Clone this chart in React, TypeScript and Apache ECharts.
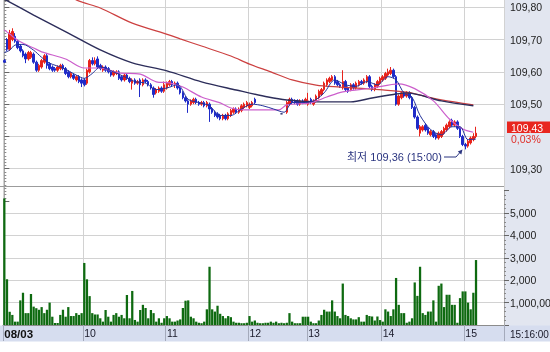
import React, { useEffect, useRef } from 'react';
import * as echarts from 'echarts';

// x-axis: hour sections (08/03 = 09:00 session start), candles per hour slot
const hourLabels = ['08/03', '10', '11', '12', '13', '14', '15'];
const hourCounts = [30, 31, 31, 22, 28, 31, 15];

const opens: (number | null)[] = [
  109.635, 109.70, 109.67, 109.70, 109.71, 109.695, 109.68, 109.665, 109.655, 109.64,
  109.645, 109.655, 109.63, 109.605, 109.615, 109.63, 109.65, 109.625, 109.615, 109.61,
  109.605, 109.61, 109.62, 109.61, 109.60, 109.585, 109.59, 109.575, 109.585, 109.575,
  109.575, 109.565, 109.60, 109.635, 109.625, 109.64, 109.62, 109.605, 109.615, 109.61,
  109.60, 109.59, 109.595, 109.60, 109.585, 109.575, 109.59, 109.58, 109.565, 109.575,
  109.565, 109.575, 109.56, 109.575, 109.57, 109.56, 109.55, 109.535, 109.54, 109.55,
  109.54, 109.55, 109.56, 109.57, 109.56, 109.565, 109.55, 109.535, 109.52, 109.51,
  109.50, 109.505, 109.515, 109.505, 109.50, 109.505, 109.495, 109.50, 109.485, 109.475,
  109.47, 109.465, 109.455, 109.465, 109.455, 109.465, 109.475, 109.485, 109.475, 109.48,
  109.49, 109.495, 109.49, 109.495, 109.515, null, null, null, null, null,
  null, null, null, null, 109.47, null, 109.475, 109.50, 109.515, 109.51,
  109.51, 109.50, 109.51, 109.505, 109.50, 109.515, 109.50, 109.51, 109.52, 109.53,
  109.545, 109.56, 109.57, 109.575, 109.585, 109.57, 109.56, 109.55, 109.57, 109.55,
  109.545, 109.56, 109.55, 109.56, 109.57, 109.565, 109.57, 109.585, 109.555, 109.545,
  109.555, 109.565, 109.575, 109.58, 109.59, 109.595, 109.605, 109.585, 109.50, 109.52,
  109.535, 109.525, 109.535, 109.52, 109.49, 109.46, 109.41, 109.42, 109.435, 109.425,
  109.405, 109.415, 109.405, 109.395, 109.40, 109.41, 109.42, 109.43, 109.45, 109.435,
  109.445, 109.425, 109.40, 109.375, 109.37, 109.38, 109.39, 109.40,
];
const closes: (number | null)[] = [
  109.63, 109.67, 109.72, 109.725, 109.695, 109.675, 109.665, 109.65, 109.64, 109.66,
  109.66, 109.63, 109.605, 109.62, 109.635, 109.65, 109.62, 109.61, 109.605, 109.605,
  109.615, 109.62, 109.61, 109.595, 109.585, 109.595, 109.58, 109.585, 109.57, 109.565,
  109.56, 109.605, 109.635, 109.625, 109.635, 109.615, 109.61, 109.615, 109.605, 109.60,
  109.59, 109.60, 109.60, 109.58, 109.575, 109.59, 109.58, 109.57, 109.575, 109.565,
  109.57, 109.56, 109.575, 109.57, 109.56, 109.55, 109.53, 109.545, 109.55, 109.54,
  109.56, 109.565, 109.57, 109.56, 109.565, 109.55, 109.535, 109.52, 109.51, 109.50,
  109.51, 109.515, 109.505, 109.50, 109.505, 109.495, 109.505, 109.485, 109.475, 109.465,
  109.46, 109.455, 109.465, 109.455, 109.47, 109.48, 109.485, 109.475, 109.485, 109.495,
  109.50, 109.505, 109.50, 109.505, 109.505, null, null, null, null, null,
  null, null, null, null, 109.47, null, 109.505, 109.515, 109.505, 109.505,
  109.50, 109.51, 109.505, 109.515, 109.51, 109.505, 109.51, 109.525, 109.54, 109.545,
  109.565, 109.575, 109.58, 109.585, 109.565, 109.56, 109.555, 109.57, 109.545, 109.54,
  109.56, 109.55, 109.565, 109.57, 109.565, 109.575, 109.585, 109.555, 109.545, 109.56,
  109.57, 109.58, 109.585, 109.595, 109.60, 109.605, 109.585, 109.50, 109.525, 109.535,
  109.525, 109.535, 109.52, 109.49, 109.46, 109.425, 109.43, 109.43, 109.42, 109.41,
  109.415, 109.40, 109.395, 109.41, 109.415, 109.425, 109.435, 109.445, 109.435, 109.445,
  109.425, 109.40, 109.375, 109.37, 109.385, 109.395, 109.40, 109.41,
];
const lows: (number | null)[] = [
  109.628, 109.665, 109.665, 109.695, 109.69, 109.67, 109.66, 109.645, 109.627, 109.635,
  109.64, 109.625, 109.60, 109.60, 109.61, 109.625, 109.61, 109.605, 109.60, 109.60,
  109.60, 109.605, 109.605, 109.59, 109.58, 109.58, 109.575, 109.57, 109.565, 109.553,
  109.555, 109.56, 109.595, 109.62, 109.62, 109.61, 109.605, 109.60, 109.60, 109.595,
  109.585, 109.585, 109.59, 109.575, 109.57, 109.57, 109.575, 109.565, 109.545, 109.56,
  109.56, 109.522, 109.555, 109.565, 109.555, 109.545, 109.52, 109.53, 109.535, 109.535,
  109.535, 109.545, 109.555, 109.555, 109.55, 109.545, 109.53, 109.515, 109.505, 109.473,
  109.495, 109.50, 109.50, 109.495, 109.495, 109.49, 109.49, 109.445, 109.47, 109.46,
  109.455, 109.45, 109.45, 109.45, 109.45, 109.46, 109.47, 109.47, 109.47, 109.475,
  109.485, 109.49, 109.485, 109.49, 109.50, null, null, null, null, null,
  null, null, null, null, 109.47, null, 109.47, 109.495, 109.50, 109.50,
  109.495, 109.495, 109.50, 109.50, 109.495, 109.50, 109.495, 109.505, 109.515, 109.525,
  109.54, 109.555, 109.565, 109.57, 109.56, 109.555, 109.55, 109.545, 109.54, 109.535,
  109.54, 109.545, 109.545, 109.555, 109.56, 109.56, 109.565, 109.55, 109.54, 109.54,
  109.55, 109.56, 109.57, 109.575, 109.585, 109.59, 109.58, 109.495, 109.495, 109.515,
  109.52, 109.52, 109.515, 109.485, 109.455, 109.42, 109.40, 109.415, 109.415, 109.405,
  109.40, 109.395, 109.39, 109.39, 109.395, 109.405, 109.415, 109.425, 109.43, 109.43,
  109.42, 109.395, 109.37, 109.36, 109.365, 109.375, 109.385, 109.395,
];
const highs: (number | null)[] = [
  109.64, 109.705, 109.73, 109.735, 109.72, 109.70, 109.685, 109.67, 109.66, 109.665,
  109.665, 109.66, 109.635, 109.625, 109.64, 109.655, 109.655, 109.63, 109.62, 109.615,
  109.62, 109.625, 109.625, 109.615, 109.605, 109.60, 109.595, 109.59, 109.59, 109.58,
  109.58, 109.61, 109.64, 109.645, 109.645, 109.648, 109.625, 109.62, 109.62, 109.615,
  109.605, 109.605, 109.605, 109.605, 109.59, 109.595, 109.595, 109.585, 109.58, 109.58,
  109.575, 109.58, 109.58, 109.58, 109.575, 109.565, 109.555, 109.55, 109.555, 109.555,
  109.57, 109.57, 109.575, 109.575, 109.57, 109.57, 109.555, 109.54, 109.525, 109.515,
  109.515, 109.52, 109.52, 109.51, 109.51, 109.51, 109.51, 109.505, 109.49, 109.48,
  109.475, 109.47, 109.47, 109.47, 109.475, 109.485, 109.49, 109.49, 109.49, 109.50,
  109.505, 109.51, 109.505, 109.51, 109.52, null, null, null, null, null,
  null, null, null, null, 109.47, null, 109.51, 109.52, 109.52, 109.515,
  109.515, 109.515, 109.515, 109.52, 109.535, 109.52, 109.515, 109.53, 109.545, 109.55,
  109.57, 109.58, 109.585, 109.59, 109.59, 109.575, 109.565, 109.605, 109.575, 109.555,
  109.565, 109.565, 109.57, 109.575, 109.575, 109.58, 109.59, 109.59, 109.56, 109.565,
  109.575, 109.585, 109.59, 109.60, 109.61, 109.615, 109.61, 109.59, 109.53, 109.54,
  109.54, 109.54, 109.54, 109.525, 109.495, 109.465, 109.435, 109.435, 109.44, 109.43,
  109.42, 109.42, 109.41, 109.415, 109.42, 109.43, 109.44, 109.45, 109.455, 109.45,
  109.45, 109.43, 109.405, 109.38, 109.39, 109.40, 109.41, 109.43,
];
const volumes: number[] = [
  5650, 2040, 590, 450, 150, 150, 1100, 1440, 530, 530,
  1380, 820, 750, 680, 800, 530, 680, 1000, 370, 90,
  90, 450, 680, 370, 800, 400, 400, 530, 450, 530,
  2770, 2040, 1290, 530, 470, 470, 300, 150, 670, 370,
  150, 450, 530, 370, 450, 300, 1340, 300, 1520, 225,
  150, 670, 900, 760, 300, 670, 530, 150, 300, 100,
  300, 400, 300, 150, 150, 200, 250, 760, 1085, 1100,
  370, 300, 150, 100, 80, 150, 700, 2600, 700, 600,
  860, 500, 400, 300, 400, 350, 150, 100, 100, 80,
  80, 100, 400, 150, 200, 100, 80, 80, 100, 100,
  150, 100, 150, 80, 100, 80, 100, 530, 150, 80,
  80, 80, 370, 370, 370, 150, 80, 80, 200, 450,
  680, 600, 600, 1100, 600, 400, 300, 1850, 450, 400,
  300, 250, 250, 350, 150, 150, 450, 400, 380, 200,
  380, 220, 150, 700, 600, 400, 700, 2100, 900, 530,
  530, 100, 150, 300, 1900, 1300, 2600, 530, 450, 600,
  600, 1100, 150, 1750, 1850, 800, 1350, 1350, 900, 900,
  100, 1200, 1500, 1500, 1000, 700, 1440, 2900,
];

// moving-average lines: [candle index, price]
const ma120: number[][] = [
  [16, 109.88], [27, 109.823], [36, 109.798], [48, 109.751], [62, 109.714], [66, 109.702],
  [74, 109.68], [85, 109.649], [92, 109.624], [100, 109.60], [108, 109.575], [117, 109.559],
  [126, 109.553], [142, 109.544], [151, 109.537], [164, 109.513], [176, 109.498],
];
const ma60: number[][] = [
  [0, 109.825], [11, 109.776], [24, 109.72], [36, 109.668], [48, 109.628], [61, 109.603],
  [74, 109.569], [87, 109.544], [99, 109.522], [106, 109.513], [118, 109.507], [130, 109.507],
  [138, 109.519], [146, 109.53], [151, 109.535], [164, 109.51], [176, 109.495],
];
const ma20: number[][] = [
  [0, 109.73], [2, 109.717], [6, 109.693], [11, 109.674], [14, 109.662], [23, 109.64],
  [30, 109.612], [36, 109.612], [43, 109.597], [51, 109.593], [57, 109.569], [62, 109.566],
  [67, 109.553], [74, 109.522], [81, 109.504], [85, 109.488], [90, 109.482], [103, 109.482],
  [106, 109.498], [115, 109.504], [121, 109.522], [127, 109.538], [138, 109.55], [148, 109.563],
  [154, 109.548], [161, 109.51], [167, 109.454], [172, 109.423], [176, 109.413],
];
const ma5: number[][] = [
  [0, 109.66], [2, 109.667], [4, 109.683], [7, 109.685], [11, 109.667], [14, 109.645],
  [17, 109.627], [22, 109.612], [27, 109.59], [30, 109.58], [33, 109.595], [36, 109.615],
  [41, 109.60], [45, 109.585], [49, 109.57], [53, 109.565], [57, 109.545], [61, 109.55],
  [65, 109.56], [69, 109.515], [73, 109.505], [77, 109.495], [81, 109.465], [85, 109.465],
  [89, 109.485], [93, 109.50], [97, 109.495], [101, 109.485], [105, 109.475], [108, 109.505],
  [112, 109.505], [116, 109.51], [120, 109.535], [124, 109.575], [128, 109.56], [132, 109.555],
  [136, 109.57], [140, 109.56], [144, 109.585], [147, 109.575], [150, 109.534], [153, 109.521],
  [156, 109.465], [160, 109.421], [164, 109.405], [168, 109.43], [171, 109.43], [174, 109.39],
  [177, 109.392],
];

const lastPrice = '109,43';
const lastChange = '0,03%';
const lowNote = '최저 109,36 (15:00)';
const clockText = '15:16:00';

const GRID = '#d2d2d2';
const UP = '#e8231b';
const DOWN = '#1f2bc8';
const FONT = "'Liberation Sans', 'Noto Sans CJK KR', sans-serif";

export default function App() {
  const ref = useRef<HTMLDivElement>(null);
  useEffect(() => {
    if (!ref.current) return;
    const chart = echarts.init(ref.current, undefined, { renderer: 'svg' });

    const categories: string[] = [];
    const hourStartLabel: Record<number, string> = {};
    hourCounts.forEach((n, h) => {
      hourStartLabel[categories.length] = hourLabels[h];
      for (let j = 0; j < n; j++) {
        const m = Math.floor((j * 60) / n);
        categories.push(`${String(9 + h).padStart(2, '0')}:${String(m).padStart(2, '0')}`);
      }
    });
    const isHourStart = (i: number) => hourStartLabel[i] !== undefined;
    const total = categories.length;

    const candleData = opens.map((o, i) =>
      o == null ? '-' : [o, closes[i], lows[i], highs[i]]
    );

    const fmtPrice = (v: number) => {
      const t = Math.round(v * 10);
      if (Math.abs(v * 10 - t) > 0.01) return '';
      const r = t / 10;
      if (r < 109.25 || r > 109.85 || Math.abs(r - 109.4) < 0.001) return '';
      return r.toFixed(2).replace('.', ',');
    };
    const fmtVol = (v: number) => {
      if (v <= 0 || v >= 6000) return '';
      if (v === 1000) return '1,000,00';
      return `${v / 1000},000`;
    };

    const lineSeries = (name: string, data: number[][], color: string, width: number) => ({
      name,
      type: 'line',
      xAxisIndex: 2,
      yAxisIndex: 0,
      data,
      symbol: 'none',
      smooth: 0.3,
      silent: true,
      lineStyle: { color, width },
      z: 3,
    });

    chart.setOption({
      animation: false,
      grid: [
        { left: 3, right: 46, top: 0, height: 201, containLabel: false, outerBoundsMode: 'none' },
        { left: 3, right: 46, top: 190.6, height: 134.4, containLabel: false, outerBoundsMode: 'none' },
      ],
      xAxis: [
        {
          type: 'category',
          gridIndex: 0,
          data: categories,
          boundaryGap: true,
          axisLine: { show: false },
          axisTick: { show: false },
          axisLabel: { show: false },
          splitLine: { show: true, interval: (i: number) => isHourStart(i), lineStyle: { color: GRID } },
        },
        {
          type: 'category',
          gridIndex: 1,
          data: categories,
          boundaryGap: true,
          axisLine: { show: true, lineStyle: { color: '#8c8c8c' } },
          axisTick: {
            show: true,
            interval: (i: number) => isHourStart(i),
            length: 16,
            lineStyle: { color: '#a4aabb' },
          },
          axisLabel: {
            show: true,
            interval: (i: number) => isHourStart(i),
            formatter: (_v: string, i: number) =>
              i === 0 ? `{b|${hourStartLabel[i]}}` : hourStartLabel[i] ?? '',
            align: 'left',
            margin: 3,
            color: '#1a1a2a',
            fontSize: 10.5,
            fontFamily: FONT,
            rich: { b: { fontWeight: 'bold', fontSize: 11.5, color: '#111', fontFamily: FONT } },
          },
          splitLine: { show: true, interval: (i: number) => isHourStart(i), lineStyle: { color: GRID } },
        },
        { type: 'value', gridIndex: 0, min: -0.5, max: total - 0.5, show: false },
      ],
      yAxis: [
        {
          type: 'value',
          gridIndex: 0,
          position: 'right',
          min: 109.2,
          max: 109.8226,
          interval: 0.1,
          axisLine: { show: true, lineStyle: { color: '#a8a8a8' } },
          axisTick: { show: true, length: 5, lineStyle: { color: '#666' } },
          minorTick: { show: true, splitNumber: 10, length: 2, lineStyle: { color: '#8a8a8a' } },
          axisLabel: { margin: 6, formatter: fmtPrice, fontSize: 10.5, color: '#222', fontFamily: FONT },
          splitLine: { show: true, showMinLine: false, showMaxLine: false, lineStyle: { color: GRID } },
        },
        {
          type: 'value',
          gridIndex: 1,
          position: 'right',
          min: 0,
          max: 6000,
          interval: 1000,
          axisLine: { show: true, lineStyle: { color: '#a8a8a8' } },
          axisTick: { show: true, length: 5, lineStyle: { color: '#666' } },
          minorTick: { show: true, splitNumber: 5, length: 2, lineStyle: { color: '#8a8a8a' } },
          axisLabel: { margin: 6, formatter: fmtVol, fontSize: 10.5, color: '#222', fontFamily: FONT },
          splitLine: { show: true, showMinLine: false, showMaxLine: false, lineStyle: { color: GRID } },
        },
      ],
      series: [
        {
          type: 'candlestick',
          xAxisIndex: 0,
          yAxisIndex: 0,
          data: candleData,
          barWidth: 2,
          silent: true,
          itemStyle: {
            color: UP,
            color0: DOWN,
            borderColor: UP,
            borderColor0: DOWN,
            borderColorDoji: '#2a2f70',
            borderWidth: 1,
          },
          z: 2,
        },
        lineSeries('MA120', ma120, '#cc4040', 1.2),
        lineSeries('MA60', ma60, '#2c2d5a', 1.4),
        lineSeries('MA20', ma20, '#cc5fcc', 1.2),
        lineSeries('MA5', ma5, '#24339a', 1),
        {
          type: 'bar',
          xAxisIndex: 1,
          yAxisIndex: 1,
          data: volumes,
          barCategoryGap: '15%',
          silent: true,
          itemStyle: { color: '#0e6a10' },
        },
      ],
      graphic: [
        { type: 'rect', z: -10, silent: true, shape: { x: 504, y: 0, width: 46, height: 326 }, style: { fill: '#e2e6f0' } },
        { type: 'rect', z: -10, silent: true, shape: { x: 0, y: 325.5, width: 550, height: 16 }, style: { fill: '#d6ddef' } },
        { type: 'line', z: 5, silent: true, shape: { x1: 0, y1: 186.5, x2: 504, y2: 186.5 }, style: { stroke: '#9c9c9c', lineWidth: 1 } },
        { type: 'rect', z: 20, silent: true, shape: { x: 507, y: 121.5, width: 43, height: 11.5 }, style: { fill: '#e8261f' } },
        { type: 'text', z: 21, silent: true, x: 511, y: 127.5, style: { text: lastPrice, fill: '#ffffff', fontSize: 10.5, fontFamily: FONT, verticalAlign: 'middle' } },
        { type: 'text', z: 21, silent: true, x: 511, y: 138.5, style: { text: lastChange, fill: '#e0302a', fontSize: 10.5, fontFamily: FONT, verticalAlign: 'middle' } },
        { type: 'text', z: 21, silent: true, x: 347, y: 157, style: { text: lowNote, fill: '#2b3580', fontSize: 11, fontFamily: FONT, verticalAlign: 'middle' } },
        { type: 'polyline', z: 21, silent: true, shape: { points: [[444, 157], [456, 157], [460.5, 151.8]] }, style: { stroke: '#2b3580', lineWidth: 1, fill: null } },
        { type: 'polygon', z: 21, silent: true, shape: { points: [[462.5, 149.5], [461.3, 154.4], [457.8, 151.4]] }, style: { fill: '#2b3580' } },
        { type: 'text', z: 21, silent: true, x: 510, y: 334, style: { text: clockText, fill: '#1a1a2a', fontSize: 10, fontFamily: FONT, verticalAlign: 'middle' } },
      ],
    });
    return () => chart.dispose();
  }, []);
  return <div ref={ref} style={{ position: 'fixed', left: 0, top: 0, width: 550, height: 352 }} />;
}
